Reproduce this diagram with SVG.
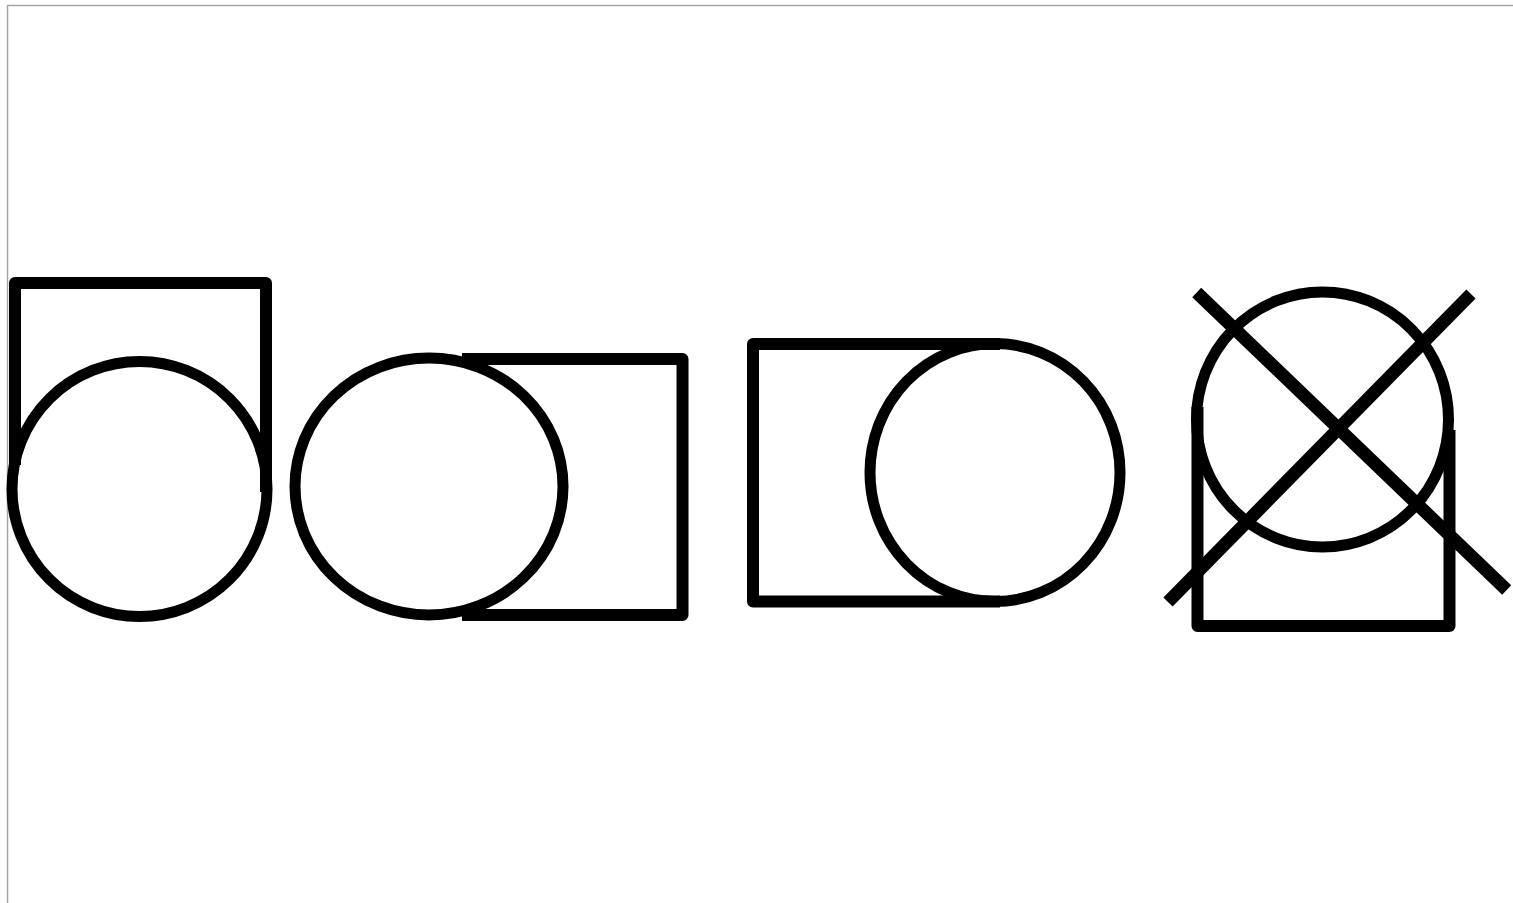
<svg xmlns="http://www.w3.org/2000/svg" width="1513" height="903" viewBox="0 0 1513 903">
<style>
.frame{fill:none;stroke:#a6a6a6;stroke-width:1.5}
.c{fill:none;stroke:#000;stroke-width:11}
.r{fill:none;stroke:#000;stroke-width:12;stroke-linejoin:round;stroke-linecap:butt}
.x{fill:none;stroke:#000;stroke-width:13;stroke-linecap:butt}
</style>
<rect width="1513" height="903" fill="#fff"/>
<rect class="frame" x="7.5" y="5.5" width="1520" height="910"/>
<g id="figure1">
<polyline class="r" points="15,465 15,283 266,283 266,492"/>
<ellipse class="c" cx="139.5" cy="489" rx="127.5" ry="127.5"/>
</g>
<g id="figure2">
<ellipse class="c" cx="429" cy="486.5" rx="134" ry="128.5"/>
<polyline class="r" points="462,359 682.5,359 682.5,615 462,615"/>
</g>
<g id="figure3">
<polyline class="r" points="1000,344 753,344 753,601.5 1000,601.5"/>
<ellipse class="c" cx="995" cy="472.5" rx="125" ry="129"/>
</g>
<g id="figure4">
<ellipse class="c" cx="1322.5" cy="419.5" rx="126" ry="127.5"/>
<polyline class="r" points="1197.5,407 1197.5,626 1449.5,626 1449.5,430"/>
<line class="x" x1="1196.7" y1="292.5" x2="1506.7" y2="590"/>
<line class="x" x1="1471" y1="294" x2="1168" y2="602"/>
</g>
</svg>
